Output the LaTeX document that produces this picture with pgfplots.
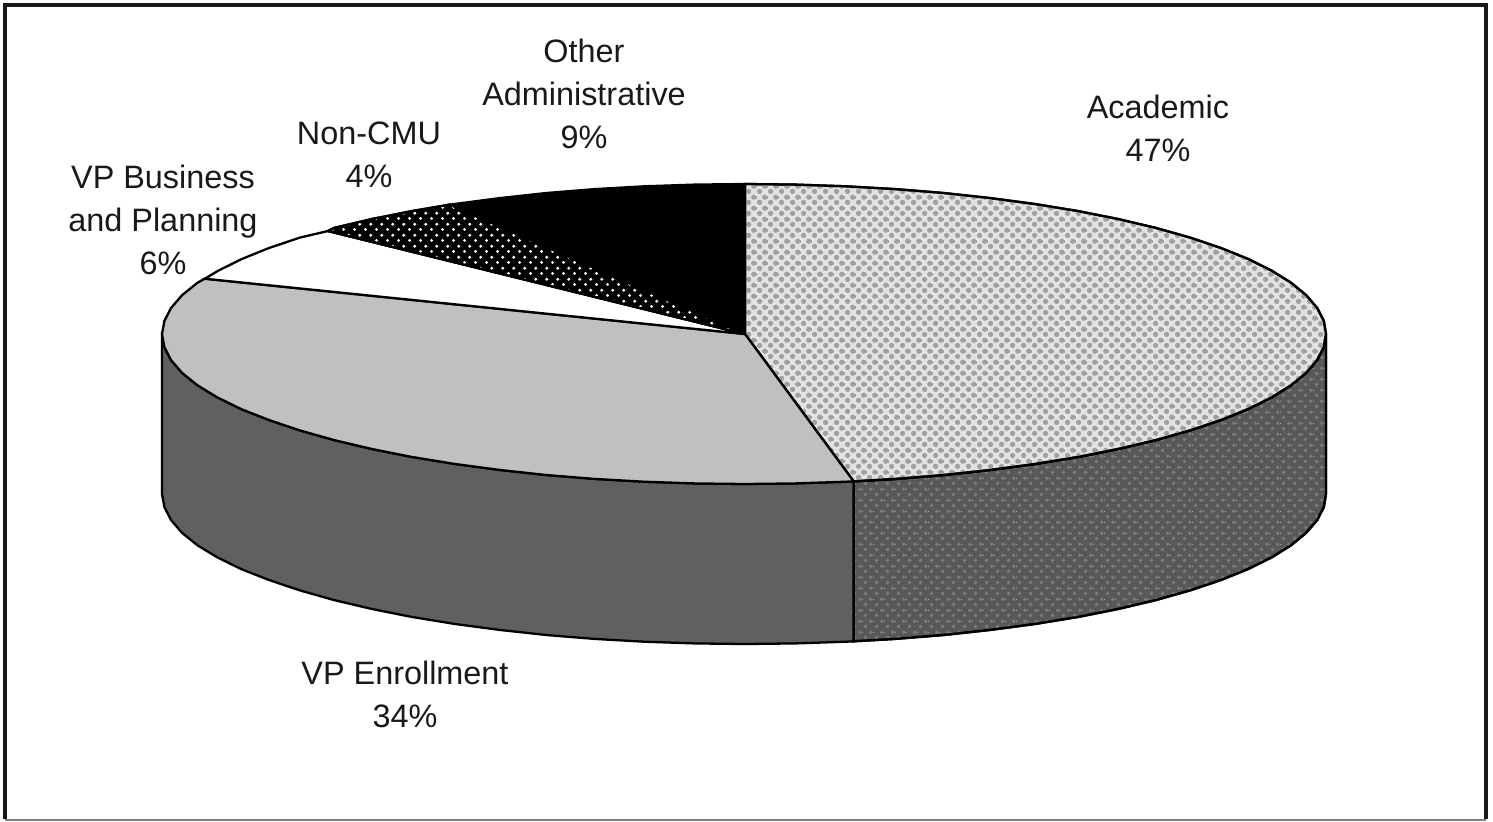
\documentclass[border=0pt]{standalone}
\usepackage{fontspec}
\setmainfont{Liberation Sans}
\usepackage{pgfplots}
\pgfplotsset{compat=1.18}
\usetikzlibrary{patterns}
\definecolor{acbg}{HTML}{E2E2E2}
\definecolor{acdot}{HTML}{A0A0A0}
\definecolor{sdbg}{HTML}{585858}
\definecolor{sddot}{HTML}{7C7C7C}
\definecolor{enrolltop}{HTML}{C0C0C0}
\definecolor{enrollside}{HTML}{606060}
\tikzset{lab/.style={font=\fontsize{16.2}{21.5}\selectfont, align=center, text=black!90, inner sep=0pt}}
\pgfdeclarepatterninherentlycolored{academictop}{\pgfqpoint{0pt}{0pt}}{\pgfqpoint{5.33pt}{5.33pt}}{\pgfqpoint{5.33pt}{5.33pt}}{%
  \pgfsetfillcolor{acdot}
  \pgfpathcircle{\pgfqpoint{1.33pt}{1.33pt}}{1.35pt}\pgfpathcircle{\pgfqpoint{4pt}{4pt}}{1.35pt}\pgfusepath{fill}}
\pgfdeclarepatterninherentlycolored{academicside}{\pgfqpoint{0pt}{0pt}}{\pgfqpoint{5.33pt}{5.33pt}}{\pgfqpoint{5.33pt}{5.33pt}}{%
  \pgfsetfillcolor{sddot}
  \pgfpathcircle{\pgfqpoint{1.33pt}{1.33pt}}{1.0pt}\pgfpathcircle{\pgfqpoint{4pt}{4pt}}{1.0pt}\pgfusepath{fill}}
\pgfdeclarepatterninherentlycolored{noncmu}{\pgfqpoint{0pt}{0pt}}{\pgfqpoint{5.33pt}{5.33pt}}{\pgfqpoint{5.33pt}{5.33pt}}{%
  \pgfsetfillcolor{white}
  \pgfpathcircle{\pgfqpoint{1.33pt}{1.33pt}}{0.8pt}\pgfpathcircle{\pgfqpoint{4pt}{4pt}}{0.8pt}\pgfusepath{fill}}
\begin{document}
\begin{tikzpicture}
\begin{axis}[
  scale only axis, width=746.5pt, height=410.5pt,
  xmin=0, xmax=1493, ymin=0, ymax=821, y dir=reverse,
  hide axis, clip=false,
  every axis plot/.append style={line width=1.15pt, line join=miter}
]
\path (axis cs:0,0) rectangle (axis cs:1493,821);
% frame
\addplot[draw=black!50, line width=1pt] coordinates {(5,819.5) (1486,819.5)};
\addplot[draw=black!90, line width=1.6pt] coordinates {(5,819) (5,5) (1486,5) (1486,819)};
% side: Academic
\addplot[fill=sdbg, postaction={pattern=academicside}, draw=black] coordinates {
(1326,334)(1323.8,347.1)(1317.2,360)(1306.2,372.8)(1291,385.3)(1271.6,397.4)(1248.2,409)(1221,420)(1190.1,430.4)(1155.8,440.1)(1118.5,448.9)(1078.3,456.9)(1035.5,463.9)(990.5,469.9)(943.7,475)(895.4,478.9)(853.6,481.3)
(853.6,641.3)(895.4,638.9)(943.7,635)(990.5,629.9)(1035.5,623.9)(1078.3,616.9)(1118.5,608.9)(1155.8,600.1)(1190.1,590.4)(1221,580)(1248.2,569)(1271.6,557.4)(1291,545.3)(1306.2,532.8)(1317.2,520)(1323.8,507.1)(1326,494)
(1326,334)};
% side: VP Enrollment
\addplot[fill=enrollside, draw=black] coordinates {
(853.6,481.3)(845.9,481.7)(795.6,483.4)(745,484)(694.4,483.4)(644.1,481.7)(594.6,478.9)(546.3,475)(499.5,469.9)(454.5,463.9)(411.7,456.9)(371.5,448.9)(334.2,440.1)(299.9,430.4)(269,420)(241,409)(217.4,397.4)(197.5,385.3)(182,372.8)(171,360)(164.4,347.1)(162,334)
(162,494)(164.4,507.1)(171,520)(182,532.8)(197.5,545.3)(217.4,557.4)(241,569)(269,580)(299.9,590.4)(334.2,600.1)(371.5,608.9)(411.7,616.9)(454.5,623.9)(499.5,629.9)(546.3,635)(594.6,638.9)(644.1,641.7)(694.4,643.4)(745,644)(795.6,643.4)(845.9,641.7)(853.6,641.3)
(853.6,481.3)};
% top: Academic
\addplot[fill=acbg, postaction={pattern=academictop}, draw=black] coordinates {
(745,334)(745,184)(795.6,184.6)(845.9,186.3)(895.4,189.1)(943.7,193)(990.5,198.1)(1035.5,204.1)(1078.3,211.1)(1118.5,219.1)(1155.8,227.9)(1190.1,237.6)(1221,248)(1248.2,259)(1271.6,270.6)(1291,282.7)(1306.2,295.2)(1317.2,308)(1323.8,320.9)(1326,334)(1323.8,347.1)(1317.2,360)(1306.2,372.8)(1291,385.3)(1271.6,397.4)(1248.2,409)(1221,420)(1190.1,430.4)(1155.8,440.1)(1118.5,448.9)(1078.3,456.9)(1035.5,463.9)(990.5,469.9)(943.7,475)(895.4,478.9)(853.6,481.3)
(745,334)};
% top: VP Enrollment
\addplot[fill=enrolltop, draw=black] coordinates {
(745,334)(853.6,481.3)(845.9,481.7)(795.6,483.4)(745,484)(694.4,483.4)(644.1,481.7)(594.6,478.9)(546.3,475)(499.5,469.9)(454.5,463.9)(411.7,456.9)(371.5,448.9)(334.2,440.1)(299.9,430.4)(269,420)(241,409)(217.4,397.4)(197.5,385.3)(182,372.8)(171,360)(164.4,347.1)(162,334)(164.4,320.9)(171,308)(182,295.2)(197.5,282.7)(204.8,278.7)
(745,334)};
% top: VP Business and Planning
\addplot[fill=white, draw=black] coordinates {
(745,334)(204.8,278.7)(218.4,270.6)(241.8,259)(269,248)(299.9,237.6)(328,231)
(745,334)};
% top: Non-CMU
\addplot[fill=black, postaction={pattern=noncmu}, draw=black] coordinates {
(745,334)(328,231)(334.2,227.9)(371.5,219.1)(411.7,211.1)(450,204.6)
(745,334)};
% top: Other Administrative
\addplot[fill=black, draw=black] coordinates {
(745,334)(450,204.6)(499.5,198.1)(546.3,193)(594.6,189.1)(644.1,186.3)(694.4,184.6)(745,184)
(745,334)};
\node[lab] at (axis cs:1158,128) {Academic\\47\%};
\node[lab] at (axis cs:405,694) {VP Enrollment\\34\%};
\node[lab] at (axis cs:163,219.5) {VP Business\\and Planning\\6\%};
\node[lab] at (axis cs:369,155) {Non-CMU\\4\%};
\node[lab] at (axis cs:584,94) {Other\\Administrative\\9\%};
\end{axis}
\end{tikzpicture}
\end{document}
